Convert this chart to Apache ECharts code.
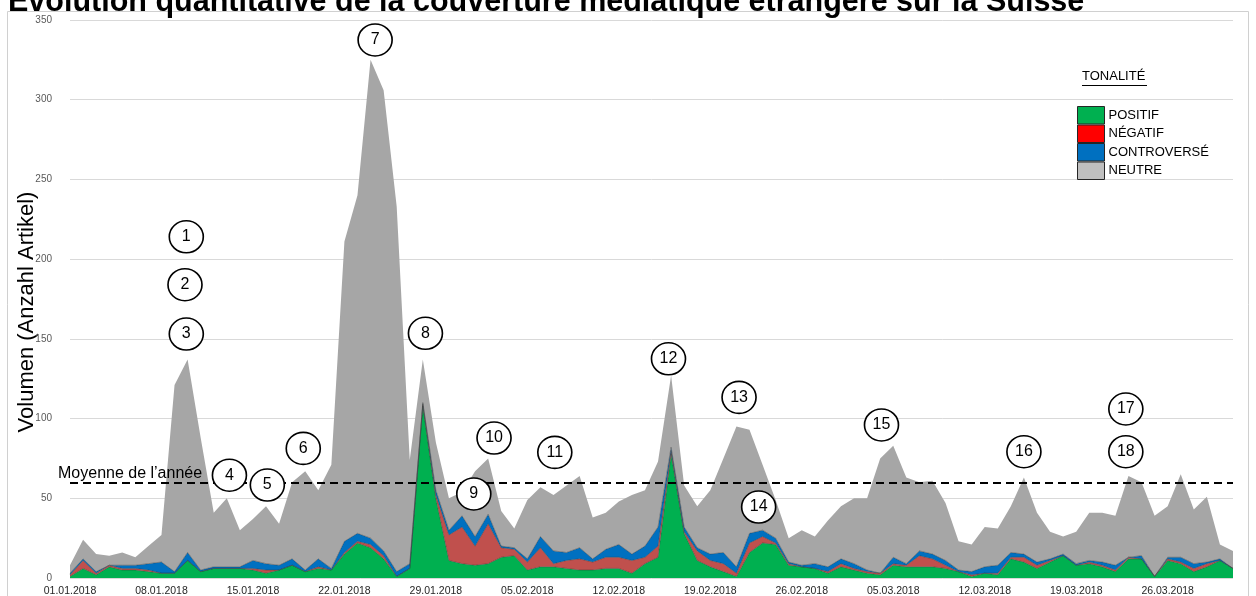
<!DOCTYPE html>
<html>
<head>
<meta charset="utf-8">
<script src="https://cdn.jsdelivr.net/npm/echarts@6/dist/echarts.min.js"></script>
<style>
html,body{margin:0;padding:0;background:#fff;}
#chart{width:1256px;height:596px;}
</style>
</head>
<body>
<div id="chart"></div>
<script>
const titleText = 'Évolution quantitative de la couverture médiatique étrangère sur la Suisse';
const yAxisName = 'Volumen (Anzahl Artikel)';
const legendTitle = 'TONALITÉ';
const averageLabel = 'Moyenne de l’année';
const averageValue = 60;

const dates = [
'01.01.2018','02.01.2018','03.01.2018','04.01.2018','05.01.2018','06.01.2018','07.01.2018','08.01.2018','09.01.2018','10.01.2018',
'11.01.2018','12.01.2018','13.01.2018','14.01.2018','15.01.2018','16.01.2018','17.01.2018','18.01.2018','19.01.2018','20.01.2018',
'21.01.2018','22.01.2018','23.01.2018','24.01.2018','25.01.2018','26.01.2018','27.01.2018','28.01.2018','29.01.2018','30.01.2018',
'31.01.2018','01.02.2018','02.02.2018','03.02.2018','04.02.2018','05.02.2018','06.02.2018','07.02.2018','08.02.2018','09.02.2018',
'10.02.2018','11.02.2018','12.02.2018','13.02.2018','14.02.2018','15.02.2018','16.02.2018','17.02.2018','18.02.2018','19.02.2018',
'20.02.2018','21.02.2018','22.02.2018','23.02.2018','24.02.2018','25.02.2018','26.02.2018','27.02.2018','28.02.2018','01.03.2018',
'02.03.2018','03.03.2018','04.03.2018','05.03.2018','06.03.2018','07.03.2018','08.03.2018','09.03.2018','10.03.2018','11.03.2018',
'12.03.2018','13.03.2018','14.03.2018','15.03.2018','16.03.2018','17.03.2018','18.03.2018','19.03.2018','20.03.2018','21.03.2018',
'22.03.2018','23.03.2018','24.03.2018','25.03.2018','26.03.2018','27.03.2018','28.03.2018','29.03.2018','30.03.2018','31.03.2018'
];

const seriesNames = ['POSITIF','NÉGATIF','CONTROVERSÉ','NEUTRE'];

const positif = [1,6,2,7,5,5,4,3,3,11, 4,6,6,6,5,3,5,8,4,6, 5,15,22,19,12,1,6,108,50,11,
 9,8,9,13,14,5,7,7,6,5, 5,6,6,3,9,13,78,28,11,7, 4,1,16,22,21,8,7,6,3,7,
 5,3,2,8,7,7,7,6,4,1, 3,2,12,10,6,10,14,8,9,7, 4,12,12,1,11,9,4,7,11,6];

const negatif = [1,5,1,1,1,1,1,0,0,0, 0,0,0,0,1,2,0,0,0,1, 0,1,1,2,2,0,0,1,2,16,
 23,12,25,6,4,5,12,2,5,7, 5,7,7,8,4,7,2,1,6,4, 5,2,6,4,1,1,0,0,1,2,
 1,1,1,1,1,7,5,2,0,1, 0,1,1,3,2,1,0,0,1,1, 1,1,0,0,1,1,2,2,0,0];

const controverse = [1,1,1,0,2,2,4,7,1,5, 1,1,1,1,5,4,3,4,1,5, 1,7,5,4,3,3,3,1,3,3,
 7,6,6,1,1,2,7,8,5,7, 2,5,8,4,7,12,2,3,2,4, 7,4,6,4,3,1,1,3,3,3,
 3,1,0,4,1,3,3,3,1,2, 4,5,3,2,2,1,1,1,1,2, 3,0,2,0,1,3,3,1,1,0];

const neutre = [5,12,11,6,8,5,11,17,117,121, 83,34,43,23,26,36,26,48,62,43, 65,188,212,300,289,229,65,27,30,20,
 15,41,35,22,12,37,31,35,42,45, 26,23,27,37,35,41,45,26,26,40, 59,88,65,41,24,15,22,17,29,33,
 41,45,72,70,54,43,46,36,18,17, 25,23,29,48,31,17,11,20,30,31, 31,51,46,38,32,52,34,41,9,11];

// circled annotation numbers: [day index, value level, label]
const annotationDay   = [8.9, 8.8, 8.9, 12.2, 15.1, 17.85, 23.35, 27.2, 30.9, 32.45, 37.1, 45.8, 51.2, 52.7, 62.1, 73.0, 80.8, 80.8];
const annotationValue = [214, 184, 153, 64.5, 58.3, 81.3, 337.5, 153.5, 52.7, 87.8, 78.8, 137.5, 113.3, 44.5, 96, 79.2, 106, 79.2];
const annotationLabel = ['1','2','3','4','5','6','7','8','9','10','11','12','13','14','15','16','17','18'];

const areaColors = ['#00B050', '#C0504D', '#0070C0', '#A6A6A6'];
const legendColors = ['#00B050', '#FF0000', '#0070C0', '#BFBFBF'];

const values = [positif, negatif, controverse, neutre];
const FONT = 'Liberation Sans, Arial, sans-serif';

const chart = echarts.init(document.getElementById('chart'), null, {renderer: 'canvas'});

const series = seriesNames.map((name, i) => {
  const s = {
    name: name,
    type: 'line',
    stack: 'total',
    data: values[i],
    symbol: 'none',
    showSymbol: false,
    smooth: false,
    areaStyle: {color: areaColors[i], opacity: 1},
    lineStyle: i < 3 ? {width: 0.6, color: '#333333', opacity: 0.7} : {width: 0, opacity: 0},
    itemStyle: {color: areaColors[i]},
    emphasis: {disabled: true},
    animation: false,
    z: 2
  };
  if (i === 3) {
    s.markLine = {
      silent: true,
      symbol: ['none', 'none'],
      animation: false,
      lineStyle: {color: '#000', type: [8, 5], width: 2},
      label: {
        show: true,
        position: 'insideStartTop',
        formatter: averageLabel,
        fontFamily: FONT,
        fontSize: 16,
        color: '#000',
        distance: [-12, 1]
      },
      data: [{yAxis: averageValue}]
    };
  }
  return s;
});

series.push({
  name: 'annotations',
  type: 'scatter',
  xAxisIndex: 1,
  yAxisIndex: 0,
  symbol: 'circle',
  symbolSize: [34, 32],
  itemStyle: {color: '#ffffff', borderColor: '#000', borderWidth: 1.6, opacity: 1},
  label: {
    show: true,
    position: 'inside',
    formatter: p => p.data[2],
    fontFamily: FONT,
    fontSize: 16,
    color: '#000'
  },
  data: annotationDay.map((d, i) => [d, annotationValue[i], annotationLabel[i]]),
  silent: true,
  animation: false,
  clip: false,
  z: 5
});

const option = {
  backgroundColor: '#ffffff',
  animation: false,
  textStyle: {fontFamily: FONT},
  title: {
    text: titleText,
    left: 8,
    top: -13,
    padding: 0,
    textStyle: {fontFamily: FONT, fontSize: 30.5, fontWeight: 'bold', color: '#000'}
  },
  graphic: [
    {
      type: 'rect', z: -10, silent: true,
      shape: {x: 7.5, y: 11.5, width: 1241, height: 600},
      style: {fill: 'none', stroke: '#d0d0d0', lineWidth: 1}
    },
    {
      type: 'text', left: 1082, top: 70, silent: true,
      style: {text: legendTitle, font: '13px ' + FONT, fill: '#000'}
    },
    {
      type: 'line', silent: true,
      shape: {x1: 1082, y1: 85.5, x2: 1147, y2: 85.5},
      style: {stroke: '#000', lineWidth: 1}
    }
  ],
  legend: {
    orient: 'vertical',
    left: 1077,
    top: 106,
    padding: 0,
    itemGap: 0,
    itemWidth: 27,
    itemHeight: 17.5,
    icon: 'rect',
    selectedMode: false,
    textStyle: {fontFamily: FONT, fontSize: 13, color: '#000', padding: [0, 0, 0, -1]},
    itemStyle: {borderColor: '#262626', borderWidth: 1},
    data: seriesNames.map((n, i) => ({name: n, itemStyle: {color: legendColors[i], borderColor: '#262626', borderWidth: 1}}))
  },
  grid: {left: 70, right: 23, top: 20, bottom: 18, containLabel: false, outerBoundsMode: 'none'},
  xAxis: [
    {
      type: 'category',
      data: dates,
      boundaryGap: false,
      axisLine: {show: false},
      axisTick: {show: false},
      axisLabel: {interval: 6, fontFamily: FONT, fontSize: 10.5, color: '#262626', margin: 8, hideOverlap: false},
      splitLine: {show: false}
    },
    {
      type: 'value',
      min: 0,
      max: 89,
      show: false
    }
  ],
  yAxis: {
    type: 'value',
    min: 0,
    max: 350,
    interval: 50,
    name: yAxisName,
    nameLocation: 'middle',
    nameGap: 32,
    nameMoveOverlap: false,
    nameTextStyle: {fontFamily: FONT, fontSize: 22, color: '#000', padding: [0, 26, 0, 0]},
    axisLine: {show: false},
    axisTick: {show: false},
    axisLabel: {fontFamily: FONT, fontSize: 10, color: '#595959', margin: 18},
    splitLine: {lineStyle: {color: '#d9d9d9', width: 1}}
  },
  series: series
};

chart.setOption(option);
</script>
</body>
</html>
